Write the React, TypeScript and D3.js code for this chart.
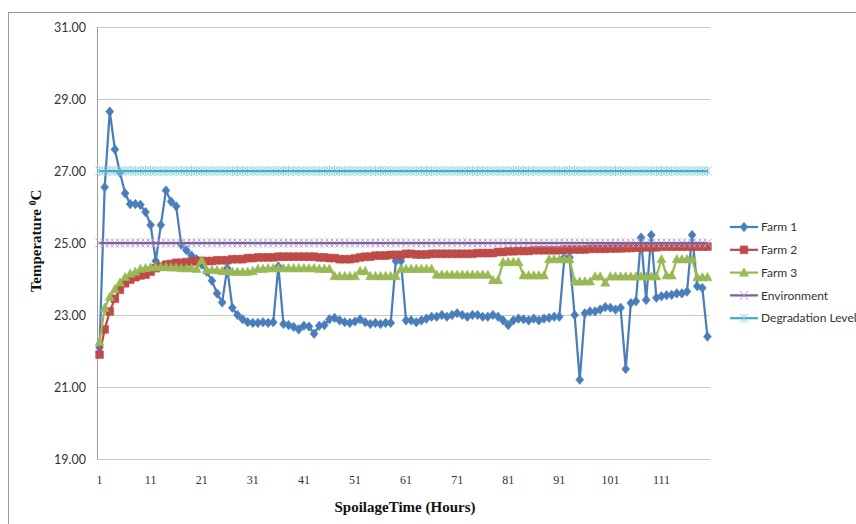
import React from 'react';
import * as d3 from 'd3';

const hours: number[] = d3.range(1, 121);
const xTickLabels: number[] = [1, 11, 21, 31, 41, 51, 61, 71, 81, 91, 101, 111];
const yTickValues: number[] = [19, 21, 23, 25, 27, 29, 31];

const farm1: number[] = [
  22.1, 26.55, 28.65, 27.6, 26.95, 26.38, 26.08, 26.08, 26.06, 25.86,
  25.5, 24.5, 25.5, 26.46, 26.15, 26.02, 24.95, 24.8, 24.65, 24.55,
  24.4, 24.2, 23.95, 23.6, 23.35, 24.3, 23.2, 23.0, 22.88, 22.8,
  22.78, 22.78, 22.8, 22.78, 22.8, 24.35, 22.75, 22.72, 22.67, 22.6,
  22.7, 22.68, 22.48, 22.7, 22.72, 22.88, 22.92, 22.85, 22.8, 22.78,
  22.82, 22.88, 22.8, 22.75, 22.78, 22.75, 22.78, 22.78, 24.5, 24.5,
  22.85, 22.85, 22.8, 22.85, 22.9, 22.95, 22.95, 23.0, 22.95, 23.0,
  23.05, 23.0, 22.95, 23.0, 23.0, 22.95, 22.95, 23.0, 22.95, 22.85,
  22.72, 22.85, 22.9, 22.88, 22.85, 22.9, 22.85, 22.9, 22.92, 22.95,
  22.95, 24.6, 24.6, 23.0, 21.2, 23.05, 23.1, 23.1, 23.15, 23.22,
  23.2, 23.15, 23.2, 21.5, 23.33, 23.38, 25.15, 23.42, 25.22, 23.48,
  23.52, 23.55, 23.56, 23.6, 23.6, 23.65, 25.22, 23.8, 23.75, 22.4,
];

const farm2: number[] = [
  21.9, 22.6, 23.1, 23.45, 23.7, 23.88, 23.98, 24.05, 24.1, 24.12,
  24.2, 24.3, 24.35, 24.4, 24.42, 24.45, 24.45, 24.47, 24.48, 24.5,
  24.5, 24.5, 24.5, 24.52, 24.52, 24.52, 24.55, 24.55, 24.55, 24.58,
  24.58, 24.6, 24.6, 24.6, 24.6, 24.62, 24.62, 24.62, 24.62, 24.62,
  24.62, 24.62, 24.62, 24.6, 24.6, 24.58, 24.58, 24.55, 24.55, 24.55,
  24.57, 24.6, 24.62, 24.62, 24.65, 24.65, 24.65, 24.67, 24.67, 24.67,
  24.7, 24.7, 24.68, 24.68, 24.68, 24.7, 24.7, 24.7, 24.7, 24.7,
  24.7, 24.7, 24.7, 24.7, 24.72, 24.72, 24.72, 24.72, 24.75, 24.75,
  24.77, 24.77, 24.78, 24.78, 24.78, 24.8, 24.8, 24.8, 24.8, 24.8,
  24.8, 24.82, 24.82, 24.82, 24.82, 24.82, 24.84, 24.84, 24.84, 24.84,
  24.85, 24.85, 24.85, 24.86, 24.86, 24.87, 24.88, 24.88, 24.88, 24.88,
  24.9, 24.9, 24.9, 24.9, 24.9, 24.9, 24.9, 24.9, 24.9, 24.9,
];

const farm3: number[] = [
  22.25, 23.2, 23.5, 23.72, 23.9, 24.05, 24.15, 24.2, 24.28, 24.3,
  24.32, 24.33, 24.33, 24.33, 24.32, 24.32, 24.3, 24.3, 24.3, 24.28,
  24.52, 24.25, 24.25, 24.25, 24.22, 24.22, 24.2, 24.2, 24.2, 24.2,
  24.22, 24.28, 24.28, 24.3, 24.3, 24.3, 24.3, 24.3, 24.3, 24.3,
  24.3, 24.3, 24.3, 24.28, 24.28, 24.28, 24.08, 24.08, 24.08, 24.08,
  24.08, 24.22, 24.22, 24.08, 24.08, 24.08, 24.08, 24.08, 24.08, 24.28,
  24.28, 24.28, 24.28, 24.28, 24.28, 24.28, 24.12, 24.12, 24.12, 24.12,
  24.12, 24.12, 24.12, 24.12, 24.12, 24.12, 24.12, 23.97, 23.97, 24.47,
  24.47, 24.47, 24.47, 24.1, 24.1, 24.1, 24.1, 24.1, 24.55, 24.55,
  24.55, 24.55, 24.55, 23.93, 23.93, 23.93, 23.93, 24.07, 24.07, 23.9,
  24.07, 24.07, 24.07, 24.07, 24.07, 24.07, 24.07, 24.07, 24.07, 24.07,
  24.55, 24.1, 24.1, 24.55, 24.55, 24.55, 24.55, 24.05, 24.05, 24.05,
];

const environment: number[] = [
  25, 25, 25, 25, 25, 25, 25, 25, 25, 25,
  25, 25, 25, 25, 25, 25, 25, 25, 25, 25,
  25, 25, 25, 25, 25, 25, 25, 25, 25, 25,
  25, 25, 25, 25, 25, 25, 25, 25, 25, 25,
  25, 25, 25, 25, 25, 25, 25, 25, 25, 25,
  25, 25, 25, 25, 25, 25, 25, 25, 25, 25,
  25, 25, 25, 25, 25, 25, 25, 25, 25, 25,
  25, 25, 25, 25, 25, 25, 25, 25, 25, 25,
  25, 25, 25, 25, 25, 25, 25, 25, 25, 25,
  25, 25, 25, 25, 25, 25, 25, 25, 25, 25,
  25, 25, 25, 25, 25, 25, 25, 25, 25, 25,
  25, 25, 25, 25, 25, 25, 25, 25, 25, 25,
];

const degradation: number[] = [
  27, 27, 27, 27, 27, 27, 27, 27, 27, 27,
  27, 27, 27, 27, 27, 27, 27, 27, 27, 27,
  27, 27, 27, 27, 27, 27, 27, 27, 27, 27,
  27, 27, 27, 27, 27, 27, 27, 27, 27, 27,
  27, 27, 27, 27, 27, 27, 27, 27, 27, 27,
  27, 27, 27, 27, 27, 27, 27, 27, 27, 27,
  27, 27, 27, 27, 27, 27, 27, 27, 27, 27,
  27, 27, 27, 27, 27, 27, 27, 27, 27, 27,
  27, 27, 27, 27, 27, 27, 27, 27, 27, 27,
  27, 27, 27, 27, 27, 27, 27, 27, 27, 27,
  27, 27, 27, 27, 27, 27, 27, 27, 27, 27,
  27, 27, 27, 27, 27, 27, 27, 27, 27, 27,
];

const seriesNames: string[] = ['Farm 1', 'Farm 2', 'Farm 3', 'Environment', 'Degradation Level'];

type Kind = 'diamond' | 'square' | 'triangle' | 'cross' | 'star';

const markerPath: Record<Kind, string> = {
  diamond: 'M0,-4.8L4,0L0,4.8L-4,0Z',
  square: 'M-3.9,-3.9L3.9,-3.9L3.9,3.9L-3.9,3.9Z',
  triangle: 'M0,-4.8L4.6,3.6L-4.6,3.6Z',
  cross: 'M-4,-4.5L4,4.5M-4,4.5L4,-4.5',
  star: 'M-4,-4.5L4,4.5M-4,4.5L4,-4.5M0,-5L0,5',
};

interface Series {
  name: string;
  values: number[];
  color: string;
  kind: Kind;
  markerColor: string;
  filled: boolean;
}

const series: Series[] = [
  { name: seriesNames[0], values: farm1, color: '#4a7ebb', kind: 'diamond', markerColor: '#4a7ebb', filled: true },
  { name: seriesNames[1], values: farm2, color: '#be4b48', kind: 'square', markerColor: '#be4b48', filled: true },
  { name: seriesNames[2], values: farm3, color: '#98b954', kind: 'triangle', markerColor: '#98b954', filled: true },
  { name: seriesNames[3], values: environment, color: '#7d60a0', kind: 'cross', markerColor: '#b3a2cf', filled: false },
  { name: seriesNames[4], values: degradation, color: '#4bacc6', kind: 'star', markerColor: '#8ccfe2', filled: false },
];

export default function App() {
  const W = 856;
  const H = 524;
  const left = 97;
  const right = 710;
  const top = 27;
  const bottom = 459;

  const x = d3.scalePoint<number>().domain(hours).range([left, right]).padding(0.5);
  const y = d3.scaleLinear().domain([19, 31]).range([bottom, top]);

  const lineGen = d3
    .line<number>()
    .x((_, i) => x(hours[i]) as number)
    .y((v) => y(v));

  const legendX = 730;
  const legendY0 = 227;
  const legendStep = 22.8;

  return (
    <svg
      width={W}
      height={H}
      viewBox={`0 0 ${W} ${H}`}
      style={{ position: 'absolute', left: 0, top: 0, background: '#fff' }}
    >
      <rect x={0} y={0} width={W} height={H} fill="#fff" />
      <rect x={8.5} y={12.5} width={900} height={600} fill="none" stroke="#9a9a9a" strokeWidth={1} />

      {yTickValues.map((t) => (
        <line key={`g${t}`} x1={left} x2={right} y1={Math.round(y(t)) + 0.5} y2={Math.round(y(t)) + 0.5} stroke="#c8c8c8" strokeWidth={1} />
      ))}
      <line x1={left + 0.5} x2={left + 0.5} y1={top} y2={bottom + 0.5} stroke="#9a9a9a" strokeWidth={1} />

      {yTickValues.map((t) => (
        <text
          key={`yl${t}`}
          x={86}
          y={y(t) + 4.5}
          textAnchor="end"
          fontFamily="Lato, 'Liberation Sans', sans-serif"
          fontSize={12.5}
          fill="#333"
        >
          {t.toFixed(2)}
        </text>
      ))}

      {xTickLabels.map((t) => (
        <text
          key={`xl${t}`}
          x={x(t) as number}
          y={484}
          textAnchor="middle"
          fontFamily="'Liberation Serif', serif"
          fontSize={12}
          fill="#333"
        >
          {t}
        </text>
      ))}

      {series.map((s) => (
        <g key={s.name}>
          <path d={lineGen(s.values) as string} fill="none" stroke={s.color} strokeWidth={2.25} strokeLinejoin="round" />
          {s.values.map((v, i) => (
            <path
              key={i}
              d={markerPath[s.kind]}
              transform={`translate(${x(hours[i])},${y(v)})`}
              fill={s.filled ? s.markerColor : 'none'}
              stroke={s.markerColor}
              strokeWidth={s.filled ? 0.5 : 1}
            />
          ))}
          {!s.filled && (
            <path d={lineGen(s.values) as string} fill="none" stroke={s.color} strokeWidth={2} />
          )}
        </g>
      ))}

      <text
        transform="translate(41,241) rotate(-90)"
        textAnchor="middle"
        fontFamily="'Liberation Serif', serif"
        fontWeight="bold"
        fontSize={15}
        fill="#111"
      >
        Temperature <tspan dy={-5} fontSize={9.5}>0</tspan>
        <tspan dy={5}>C</tspan>
      </text>
      <text
        x={405}
        y={512}
        textAnchor="middle"
        fontFamily="'Liberation Serif', serif"
        fontWeight="bold"
        fontSize={15}
        fill="#111"
      >
        SpoilageTime (Hours)
      </text>

      {series.map((s, k) => {
        const ly = legendY0 + k * legendStep;
        return (
          <g key={`lg${s.name}`}>
            <line x1={legendX} x2={legendX + 28} y1={ly} y2={ly} stroke={s.color} strokeWidth={2.25} />
            <path
              d={markerPath[s.kind]}
              transform={`translate(${legendX + 14},${ly})`}
              fill={s.filled ? s.markerColor : 'none'}
              stroke={s.markerColor}
              strokeWidth={s.filled ? 0.5 : 1}
            />
            <text
              x={legendX + 31}
              y={ly + 4.2}
              fontFamily="Lato, 'Liberation Sans', sans-serif"
              fontSize={12}
              fill="#333"
            >
              {s.name}
            </text>
          </g>
        );
      })}
    </svg>
  );
}
